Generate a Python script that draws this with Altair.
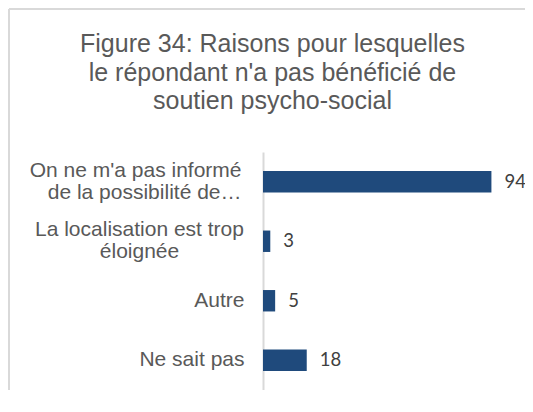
import altair as alt
import pandas as pd

categories = [
    "On ne m'a pas informé|de la possibilité de…",
    "La localisation est trop|éloignée",
    "Autre",
    "Ne sait pas",
]
values = [94, 3, 5, 18]
title_lines = [
    "Figure 34: Raisons pour lesquelles",
    "le répondant n'a pas bénéficié de",
    "soutien psycho-social",
]

df = pd.DataFrame({"cat": categories, "val": values})

is_first = "indexof(datum.value, 'informé') >= 0"
is_second = "indexof(datum.value, 'localisation') >= 0"

base = alt.Chart(df).encode(
    y=alt.Y(
        "cat:N",
        sort=categories,
        title=None,
        scale=alt.Scale(paddingInner=0.64, paddingOuter=0.32),
        axis=alt.Axis(
            labelExpr="split(datum.label, '|')",
            labelOffset={"condition": {"test": "indexof(datum.value, '|') >= 0", "value": -11}, "value": 0},
            labelAlign={"condition": {"test": is_second, "value": "center"}, "value": "right"},
            labelPadding={
                "condition": [
                    {"test": is_second, "value": 124},
                    {"test": is_first, "value": 22},
                ],
                "value": 19,
            },
            ticks=False,
            tickSize=0,
            labelFont="Liberation Sans",
            labelFontSize=21,
            labelColor="#595959",
            labelLimit=400,
            labelLineHeight=22,
            domainColor="#d9d9d9",
            domainWidth=2,
            grid=False,
        ),
    ),
    x=alt.X("val:Q", scale=alt.Scale(domain=[0, 100]), axis=None),
)

bars = base.mark_bar(color="#1F4A7C")
labels = base.mark_text(
    align="left", baseline="middle", dx=13, font="Lato", fontSize=18.5, color="#404040"
).encode(text="val:Q")

frame_df = pd.DataFrame({"k": [0]})
top_line = alt.Chart(frame_df).mark_rule(color="#d9d9d9", strokeWidth=2).encode(
    x=alt.value(-254), x2=alt.value(262), y=alt.value(-143)
)
left_line = alt.Chart(frame_df).mark_rule(color="#d9d9d9", strokeWidth=2).encode(
    x=alt.value(-254), y=alt.value(-143), y2=alt.value(238)
)

chart = alt.layer(top_line, left_line, bars, labels).properties(
    width=243,
    height=238,
    autosize=alt.AutoSizeParams(type="none"),
    padding={"left": 255, "top": 144, "right": 19, "bottom": 0},
    title=alt.TitleParams(
        text=title_lines,
        font="Liberation Sans",
        fontSize=25,
        fontWeight="normal",
        color="#595959",
        lineHeight=28.5,
        anchor="middle",
        baseline="top",
        frame="group",
        dx=-112,
        dy=110,
    ),
).configure_view(stroke=None)

chart.save("out.html", embed_options={"renderer": "svg", "actions": False})
